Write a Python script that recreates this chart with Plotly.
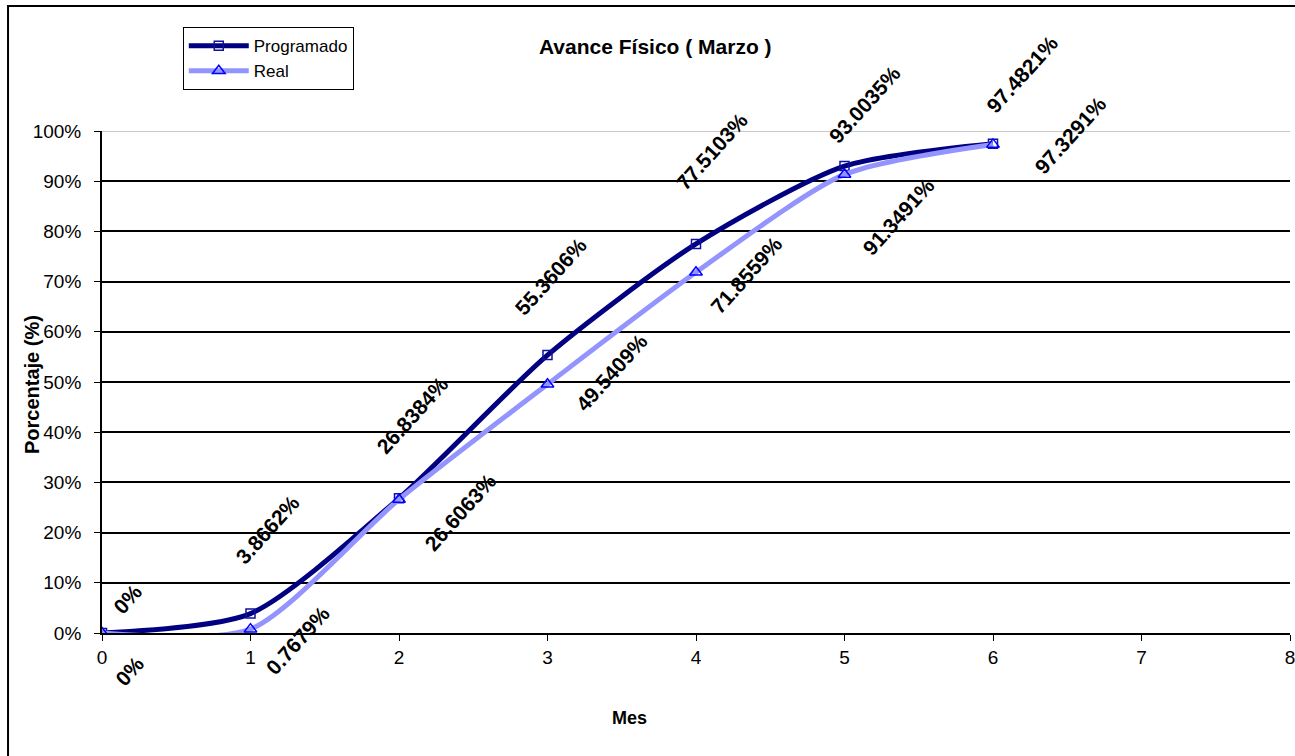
import plotly.graph_objects as go

meses = [0, 1, 2, 3, 4, 5, 6]
programado = [0.0, 3.8662, 26.8384, 55.3606, 77.5103, 93.0035, 97.4821]
real = [0.0, 0.7679, 26.6063, 49.5409, 71.8559, 91.3491, 97.3291]
y_ticks = [0, 10, 20, 30, 40, 50, 60, 70, 80, 90, 100]
x_ticks = [0, 1, 2, 3, 4, 5, 6, 7, 8]

# label pixel offsets (dx, dy) relative to each point
prog_off = [(25, 34), (17, 84), (13, 83), (3, 79), (16, 92), (20, 62), (29, 69)]
real_off = [(27, -38), (47, -11), (61, -13), (64, 12), (50, -3), (54, -42), (77, 9)]

def fmt(v):
    s = ("%.4f" % v).rstrip("0").rstrip(".")
    return s + "%"

FONT = "Liberation Sans, Arial"

fig = go.Figure()
fig.add_trace(go.Scatter(
    x=meses, y=programado, name="Programado", mode="lines+markers",
    line=dict(color="#000080", width=5, shape="spline", smoothing=0.7),
    marker=dict(symbol="square-open", size=9, color="#1010a0", line=dict(width=1.5, color="#1010a0")),
))
fig.add_trace(go.Scatter(
    x=meses, y=real, name="Real", mode="lines+markers",
    line=dict(color="#9494ff", width=5, shape="spline", smoothing=0.7),
    marker=dict(symbol="triangle-up-open", size=11, color="#0000ff", line=dict(width=1.5, color="#0000ff")),
))

annotations = []
lab_font = dict(family=FONT, size=21, color="black")
for xv, yv, (dx, dy) in zip(meses, programado, prog_off):
    annotations.append(dict(x=xv, y=yv, xref="x", yref="y", text="<b>%s</b>" % fmt(yv),
                            showarrow=False, textangle=-48, xanchor="center", yanchor="middle",
                            xshift=dx, yshift=dy, font=lab_font))
for xv, yv, (dx, dy) in zip(meses, real, real_off):
    annotations.append(dict(x=xv, y=yv, xref="x", yref="y", text="<b>%s</b>" % fmt(yv),
                            showarrow=False, textangle=-48, xanchor="center", yanchor="middle",
                            xshift=dx, yshift=dy, font=lab_font))

annotations.append(dict(x=-0.0589, y=0.494, xref="paper", yref="paper", text="<b>Porcentaje (%)</b>",
                        showarrow=False, textangle=-90, xanchor="center", yanchor="middle",
                        font=dict(family=FONT, size=20, color="black")))
annotations.append(dict(x=0.444, y=-0.169, xref="paper", yref="paper", text="<b>Mes</b>",
                        showarrow=False, xanchor="center", yanchor="middle",
                        font=dict(family=FONT, size=18, color="black")))

fig.update_layout(
    width=1295, height=756,
    margin=dict(l=102, r=5, t=131, b=123, autoexpand=False),
    paper_bgcolor="white", plot_bgcolor="white",
    font=dict(family=FONT, color="black", size=18),
    title=dict(text="<b>Avance Físico ( Marzo )</b>", x=0.506, y=0.938, xanchor="center", yanchor="middle",
               font=dict(size=21, family=FONT, color="black")),
    showlegend=True,
    legend=dict(x=0.068, y=1.207, xanchor="left", yanchor="top", bgcolor="white",
                bordercolor="black", borderwidth=1, font=dict(size=17), itemwidth=60),
    annotations=annotations,
    shapes=[
        dict(type="line", xref="paper", yref="y", x0=0, x1=1, y0=100, y1=100,
             line=dict(color="#c8c8c8", width=2), layer="above"),
        dict(type="rect", xref="paper", yref="paper", x0=-0.0791, x1=1.02, y0=-0.3, y1=1.249,
             line=dict(color="black", width=2), fillcolor="rgba(0,0,0,0)"),
    ],
)
fig.update_xaxes(range=[0, 8], tickvals=x_ticks, showgrid=False, zeroline=False,
                 showline=True, linecolor="black", linewidth=2, ticks="outside", ticklen=6,
                 tickcolor="black", tickfont=dict(size=19), ticklabeloverflow="allow",
                 automargin=False)
fig.update_yaxes(range=[0, 100], tickvals=y_ticks,
                 ticktext=[f"{v}%<span style='font-size:8px;color:rgba(0,0,0,0)'>00</span>" for v in y_ticks],
                 showgrid=True, gridcolor="black", gridwidth=2, zeroline=False,
                 showline=True, linecolor="black", linewidth=2, ticks="outside", ticklen=6,
                 tickcolor="black", tickfont=dict(size=19),
                 automargin=False)

fig.write_html("out.html")
